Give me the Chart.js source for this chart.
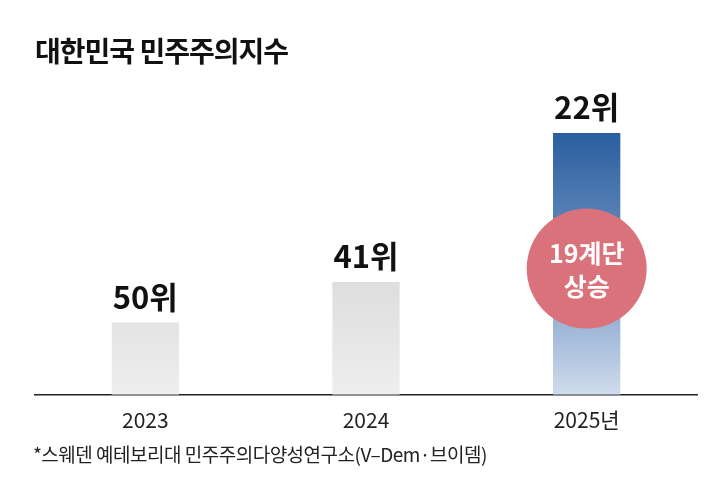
<!DOCTYPE html>
<html><head><meta charset="utf-8">
<script src="https://cdn.jsdelivr.net/npm/chart.js@4"></script>
<style>
  body { margin:0; background:#fff; font-family:"Noto Sans CJK KR","Noto Sans",sans-serif; }
  #wrap { position:relative; width:720px; height:498px; }
  #title { position:absolute; left:35px; top:30px; font-size:28px; font-weight:700; color:#111; letter-spacing:-1px; }
  #note { position:absolute; left:33px; top:440px; font-size:19px; color:#222; letter-spacing:-0.5px; }
  canvas { position:absolute; left:0; top:0; }
</style></head>
<body>
<div id="wrap">
  <canvas id="c" width="720" height="498"></canvas>
  <div id="title">대한민국 민주주의지수</div>
  <div id="note">*스웨덴 예테보리대 민주주의다양성연구소(V–Dem·브이뎀)</div>
</div>
<script>
// ── Data ─────────────────────────────────────────────────────
const years = ['2023', '2024', '2025년'];
const ranks = [50, 41, 22];
const barHeights = [70, 109, 253];   // drawn height
const badgeLines = ['19계단', '상승'];

// ── Bar fills ────────────────────────────────────────────────
function fill(ctx) {
  const c = ctx.chart.ctx, a = ctx.chart.chartArea;
  if (!a) return '#e2e2e2';
  if (ctx.dataIndex === 2) {
    const g = c.createLinearGradient(0, 132, 0, a.bottom);
    g.addColorStop(0, '#2a5e9e');
    g.addColorStop(0.5, '#6f93c3');
    g.addColorStop(1, '#d0dcec');
    return g;
  }
  const g = c.createLinearGradient(0, 270, 0, a.bottom);
  g.addColorStop(0, '#dcdcdc');
  g.addColorStop(1, '#eeeeee');
  return g;
}

// ── Labels and badge ─────────────────────────────────────────
const labelsPlugin = {
  id: 'labels',
  afterDatasetsDraw(chart) {
    const c = chart.ctx;
    const meta = chart.getDatasetMeta(0);
    c.save();
    c.fillStyle = '#111';
    c.font = '700 31px "Noto Sans CJK KR", sans-serif';
    c.textAlign = 'center';
    c.textBaseline = 'bottom';
    meta.data.forEach((bar, i) => {
      c.fillText(ranks[i] + '위', bar.x, bar.y - 10);
    });
    const b = meta.data[2];
    const cy = chart.scales.y.getPixelForValue(122);
    c.fillStyle = '#d9727b';
    c.beginPath();
    c.arc(b.x, cy, 60, 0, Math.PI * 2);
    c.fill();
    c.fillStyle = '#fff';
    c.font = '700 25px "Noto Sans CJK KR", sans-serif';
    c.textBaseline = 'middle';
    c.fillText(badgeLines[0], b.x, cy - 15);
    c.fillText(badgeLines[1], b.x, cy + 18);
    c.restore();
  }
};

new Chart(document.getElementById('c'), {
  type: 'bar',
  data: {
    labels: years,
    datasets: [{ data: barHeights, backgroundColor: fill, barPercentage: 0.305, categoryPercentage: 1 }]
  },
  options: {
    responsive: false,
    animation: false,
    layout: { padding: { left: 35, right: 23, top: 100, bottom: 60 } },
    plugins: { legend: { display: false }, tooltip: { enabled: false } },
    scales: {
      x: {
        grid: { display: false },
        border: { color: '#222', width: 1.5 },
        ticks: { color: '#222', padding: 5, font: { size: 21, family: 'Noto Sans CJK KR' } }
      },
      y: { display: false, min: 0, max: 285 }
    }
  },
  plugins: [labelsPlugin]
});
</script>
</body></html>
